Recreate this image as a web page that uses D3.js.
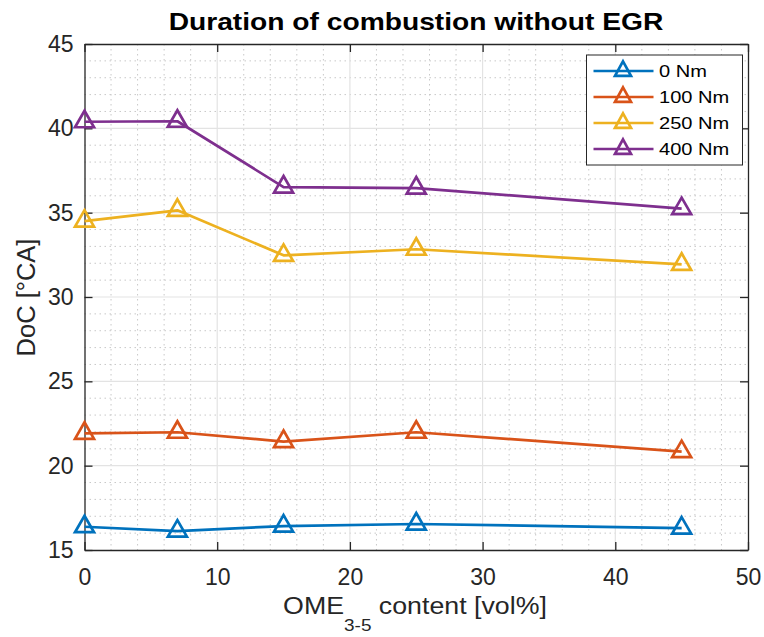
<!DOCTYPE html>
<html>
<head>
<meta charset="utf-8">
<script src="https://cdn.jsdelivr.net/npm/d3@7"></script>
<style>
  html, body { margin: 0; padding: 0; background: #fff; }
  svg { display: block; font-family: "Liberation Sans", Arial, Helvetica, sans-serif; }
</style>
</head>
<body>
<svg id="chart" width="764" height="637"></svg>
<script>
// OME3-5 content [vol%] at each operating point
const omeContent = [0, 7, 15, 25, 45];

// Duration of combustion [°CA] per engine load
const doc0Nm   = [16.38, 16.12, 16.42, 16.54, 16.30];
const doc100Nm = [21.92, 21.98, 21.43, 21.98, 20.83];
const doc250Nm = [34.50, 35.14, 32.47, 32.83, 31.94];
const doc400Nm = [40.39, 40.42, 36.52, 36.46, 35.24];

const seriesNames = ["0 Nm", "100 Nm", "250 Nm", "400 Nm"];
const seriesColors = ["#0072BD", "#D95319", "#EDB120", "#7E2F8E"];

const xTicks = [0, 10, 20, 30, 40, 50];
const yTicks = [15, 20, 25, 30, 35, 40, 45];

const series = [doc0Nm, doc100Nm, doc250Nm, doc400Nm].map((vals, i) => ({
  name: seriesNames[i],
  color: seriesColors[i],
  points: vals.map((v, j) => ({ x: omeContent[j], y: v }))
}));

const svg = d3.select("#chart");
const pLeft = 84.5, pRight = 748, pTop = 44, pBottom = 550;

const x = d3.scaleLinear().domain([0, 50]).range([pLeft, pRight]);
const y = d3.scaleLinear().domain([15, 45]).range([pBottom, pTop]);

// Grid: dotted minor lines, solid light major lines
const grid = svg.append("g");
const xMinor = d3.range(0, 50.01, 2).filter(v => v % 10 !== 0);
const yMinor = d3.range(15, 45.01, 1).filter(v => v % 5 !== 0);
grid.selectAll(".xminor").data(xMinor).join("line")
  .attr("x1", d => x(d)).attr("x2", d => x(d)).attr("y1", pTop).attr("y2", pBottom)
  .attr("stroke", "#c8c8c8").attr("stroke-width", 1).attr("stroke-dasharray", "1.5,3.5");
grid.selectAll(".yminor").data(yMinor).join("line")
  .attr("y1", d => y(d)).attr("y2", d => y(d)).attr("x1", pLeft).attr("x2", pRight)
  .attr("stroke", "#c8c8c8").attr("stroke-width", 1).attr("stroke-dasharray", "1.5,3.5");
grid.selectAll(".xmajor").data(xTicks.slice(1, -1)).join("line")
  .attr("x1", d => x(d)).attr("x2", d => x(d)).attr("y1", pTop).attr("y2", pBottom)
  .attr("stroke", "#e3e3e3").attr("stroke-width", 1.2);
grid.selectAll(".ymajor").data(yTicks.slice(1, -1)).join("line")
  .attr("y1", d => y(d)).attr("y2", d => y(d)).attr("x1", pLeft).attr("x2", pRight)
  .attr("stroke", "#e3e3e3").attr("stroke-width", 1.2);

// Axes with inward ticks on all four sides
const tickLen = 8;
const axisColor = "#262626";
const fontSize = "23px";

const gBottom = svg.append("g").attr("transform", `translate(0,${pBottom})`)
  .call(d3.axisBottom(x).tickValues(xTicks).tickSizeInner(-tickLen).tickSizeOuter(0).tickPadding(19));
const gTop = svg.append("g").attr("transform", `translate(0,${pTop})`)
  .call(d3.axisTop(x).tickValues(xTicks).tickSizeInner(-tickLen).tickSizeOuter(0).tickFormat(""));
const gLeft = svg.append("g").attr("transform", `translate(${pLeft},0)`)
  .call(d3.axisLeft(y).tickValues(yTicks).tickSizeInner(-tickLen).tickSizeOuter(0).tickPadding(11));
const gRight = svg.append("g").attr("transform", `translate(${pRight},0)`)
  .call(d3.axisRight(y).tickValues(yTicks).tickSizeInner(-tickLen).tickSizeOuter(0).tickFormat(""));

[gBottom, gTop, gLeft, gRight].forEach(g => {
  g.select(".domain").attr("stroke", axisColor).attr("stroke-width", 1.3);
  g.selectAll(".tick line").attr("stroke", axisColor).attr("stroke-width", 1.3);
  g.selectAll(".tick text").attr("fill", axisColor).style("font-size", fontSize)
    .style("font-family", "'Liberation Sans', Arial, sans-serif");
});

// Series lines and open triangle markers
const line = d3.line().x(d => x(d.x)).y(d => y(d.y));
const tri = (w, h) => `M0,${-h * 2 / 3}L${w / 2},${h / 3}L${-w / 2},${h / 3}Z`;
const triPath = tri(19, 16.5);
const legendTri = tri(16, 14.5);

const plot = svg.append("g");
series.forEach(s => {
  plot.append("path").datum(s.points)
    .attr("d", line).attr("fill", "none")
    .attr("stroke", s.color).attr("stroke-width", 2.7).attr("stroke-linejoin", "round");
  plot.selectAll(null).data(s.points).join("path")
    .attr("transform", d => `translate(${x(d.x)},${y(d.y)})`)
    .attr("d", triPath).attr("fill", "none")
    .attr("stroke", s.color).attr("stroke-width", 2.7);
});

// Title and axis labels (text widened slightly along the baseline)
svg.append("g").attr("transform", "translate(416,29.5) scale(1.2,1)")
  .append("text").attr("text-anchor", "middle")
  .style("font-size", "23.5px").style("font-weight", "bold").attr("fill", "#000")
  .text("Duration of combustion without EGR");

const xl = svg.append("g").attr("transform", "translate(415,613.5) scale(1.115,1)")
  .append("text").attr("text-anchor", "middle")
  .style("font-size", "24px").attr("fill", axisColor);
xl.append("tspan").text("OME");
xl.append("tspan").attr("dy", 18).style("font-size", "17px").text("3-5");
xl.append("tspan").attr("dy", -18).text(" content [vol%]");

svg.append("text").attr("transform", "translate(35,297.5) rotate(-90)")
  .attr("text-anchor", "middle").style("font-size", "25.5px").attr("fill", axisColor)
  .text("DoC [°CA]");

// Legend
const lg = svg.append("g").attr("transform", "translate(586.5,55)");
lg.append("rect").attr("width", 156).attr("height", 110)
  .attr("fill", "#fff").attr("stroke", "#262626").attr("stroke-width", 1);
series.forEach((s, i) => {
  const cy = 16 + i * 26;
  lg.append("line").attr("x1", 7).attr("x2", 67).attr("y1", cy).attr("y2", cy)
    .attr("stroke", s.color).attr("stroke-width", 2.7);
  lg.append("path").attr("transform", `translate(36.5,${cy})`).attr("d", legendTri)
    .attr("fill", "none").attr("stroke", s.color).attr("stroke-width", 2.7);
  lg.append("g").attr("transform", `translate(72.5,${cy + 6}) scale(1.18,1)`)
    .append("text").style("font-size", "17px").attr("fill", "#000").text(s.name);
});
</script>
</body>
</html>
